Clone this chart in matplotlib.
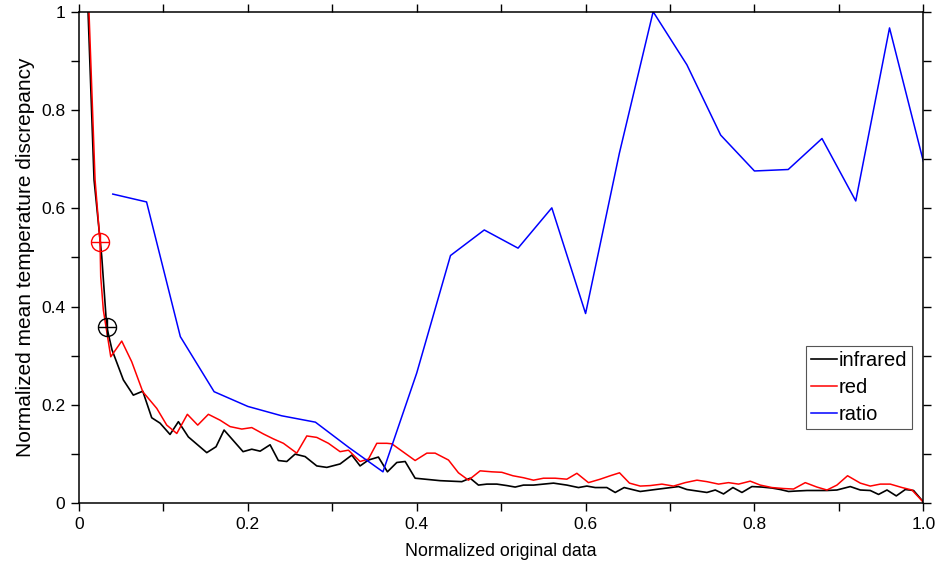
import numpy as np
import matplotlib
matplotlib.use('Agg')
import matplotlib.pyplot as plt
from matplotlib.ticker import MultipleLocator

plt.rcParams['font.family'] = ['Liberation Sans', 'DejaVu Sans']
plt.rcParams['font.size'] = 12

# infrared channel
x_ir = [0.0107, 0.0178, 0.0269, 0.0328, 0.0391, 0.0525, 0.0643, 0.0755, 0.0861, 0.0960,
        0.1078, 0.1177, 0.1295, 0.1513, 0.1623, 0.1718, 0.1943, 0.2046, 0.2145, 0.2263,
        0.2361, 0.2461, 0.2559, 0.2678, 0.2816, 0.2935, 0.3092, 0.3231, 0.3329, 0.3428,
        0.3546, 0.3653, 0.3764, 0.3863, 0.3981, 0.4277, 0.4534, 0.4633, 0.4731, 0.4831,
        0.4949, 0.5068, 0.5166, 0.5264, 0.5383, 0.5501, 0.5620, 0.5778, 0.5916, 0.6015,
        0.6114, 0.6252, 0.6351, 0.6457, 0.6647, 0.6825, 0.6963, 0.7101, 0.7200, 0.7319,
        0.7437, 0.7536, 0.7634, 0.7745, 0.7852, 0.7970, 0.8089, 0.8207, 0.8306, 0.8404,
        0.8504, 0.8622, 0.8740, 0.8859, 0.8977, 0.9135, 0.9254, 0.9372, 0.9470, 0.9570,
        0.9680, 0.9787, 0.9885, 1.0]
y_ir = [1.0, 0.658, 0.502, 0.359, 0.312, 0.251, 0.220, 0.228, 0.174, 0.163,
        0.140, 0.166, 0.135, 0.103, 0.115, 0.149, 0.105, 0.110, 0.106, 0.119,
        0.087, 0.085, 0.100, 0.095, 0.076, 0.073, 0.080, 0.098, 0.076, 0.088,
        0.094, 0.064, 0.083, 0.085, 0.051, 0.046, 0.044, 0.051, 0.037, 0.039,
        0.039, 0.036, 0.033, 0.037, 0.037, 0.039, 0.041, 0.037, 0.032, 0.035,
        0.032, 0.032, 0.022, 0.032, 0.024, 0.028, 0.031, 0.034, 0.028, 0.025,
        0.022, 0.027, 0.019, 0.032, 0.022, 0.034, 0.033, 0.031, 0.028, 0.024,
        0.025, 0.026, 0.026, 0.026, 0.027, 0.034, 0.027, 0.026, 0.018, 0.027,
        0.015, 0.028, 0.026, 0.003]

# red channel
x_red = [0.0118, 0.0190, 0.0249, 0.0257, 0.0288, 0.0376, 0.0506, 0.0624, 0.0755, 0.0921,
         0.1039, 0.1158, 0.1283, 0.1406, 0.1532, 0.1671, 0.1789, 0.1928, 0.2046, 0.2184,
         0.2302, 0.2421, 0.2579, 0.2698, 0.2816, 0.2954, 0.3092, 0.3191, 0.3329, 0.3428,
         0.3527, 0.3646, 0.3705, 0.3981, 0.4120, 0.4218, 0.4376, 0.4494, 0.4613, 0.4751,
         0.4890, 0.5008, 0.5139, 0.5264, 0.5383, 0.5501, 0.5640, 0.5778, 0.5897, 0.6034,
         0.6173, 0.6292, 0.6402, 0.6520, 0.6647, 0.6765, 0.6904, 0.7041, 0.7180, 0.7319,
         0.7437, 0.7575, 0.7693, 0.7812, 0.7950, 0.8069, 0.8207, 0.8345, 0.8463, 0.8602,
         0.8740, 0.8859, 0.8977, 0.9103, 0.9254, 0.9372, 0.9491, 0.9609, 0.9748, 0.9866,
         0.9985]
y_red = [1.0, 0.658, 0.532, 0.461, 0.393, 0.298, 0.330, 0.288, 0.227, 0.193,
         0.159, 0.142, 0.181, 0.159, 0.181, 0.169, 0.156, 0.151, 0.154, 0.141,
         0.131, 0.122, 0.102, 0.137, 0.134, 0.122, 0.105, 0.108, 0.085, 0.090,
         0.122, 0.122, 0.121, 0.087, 0.102, 0.102, 0.088, 0.062, 0.047, 0.066,
         0.064, 0.063, 0.056, 0.052, 0.047, 0.051, 0.051, 0.049, 0.061, 0.042,
         0.049, 0.056, 0.062, 0.041, 0.035, 0.036, 0.039, 0.035, 0.042, 0.047,
         0.044, 0.039, 0.042, 0.039, 0.045, 0.037, 0.032, 0.030, 0.029, 0.042,
         0.033, 0.027, 0.037, 0.056, 0.041, 0.035, 0.039, 0.039, 0.032, 0.027,
         0.005]

# ratio
x_ratio = [0.04, 0.08, 0.12, 0.16, 0.20, 0.24, 0.28, 0.32, 0.36, 0.40, 0.44, 0.48, 0.52,
           0.56, 0.60, 0.64, 0.68, 0.72, 0.76, 0.80, 0.84, 0.88, 0.92, 0.96, 1.00]
y_ratio = [0.629, 0.613, 0.339, 0.227, 0.197, 0.178, 0.165, 0.113, 0.064, 0.265, 0.504,
           0.556, 0.519, 0.601, 0.386, 0.712, 1.0, 0.892, 0.749, 0.676, 0.679, 0.742,
           0.615, 0.967, 0.696]

# selected points
sel_ir = (0.0328, 0.359)
sel_red = (0.0249, 0.532)

fig = plt.figure(figsize=(9.43, 5.71), dpi=100)
ax = fig.add_axes([0.0838, 0.1186, 0.8953, 0.8609])

ax.plot(x_ir, y_ir, color='black', lw=1.2, label='infrared')
ax.plot(x_red, y_red, color='red', lw=1.1, label='red')
ax.plot(x_ratio, y_ratio, color='blue', lw=1.1, label='ratio')

for (px, py), c in [(sel_red, 'red'), (sel_ir, 'black')]:
    ax.plot(px, py, marker='o', ms=13, mfc='none', mec=c, mew=1.0)
    ax.plot(px, py, marker='+', ms=13, mec=c, mew=1.0)

ax.set_xlim(0, 1)
ax.set_ylim(0, 1)
ax.xaxis.set_minor_locator(MultipleLocator(0.1))
ax.yaxis.set_minor_locator(MultipleLocator(0.1))
ax.set_xticks([0, 0.2, 0.4, 0.6, 0.8, 1.0])
ax.set_xticklabels(['0', '0.2', '0.4', '0.6', '0.8', '1.0'])
ax.set_yticks([0, 0.2, 0.4, 0.6, 0.8, 1.0])
ax.set_yticklabels(['0', '0.2', '0.4', '0.6', '0.8', '1'])
ax.tick_params(which='both', direction='out', length=6, width=1.0,
               top=True, right=True, labelsize=12.5, pad=4)
for s in ax.spines.values():
    s.set_linewidth(1.1)

ax.set_xlabel('Normalized original data', fontsize=12.8, labelpad=8)
ax.set_ylabel('Normalized mean temperature discrepancy', fontsize=15, labelpad=4)

leg = ax.legend(loc='lower right', bbox_to_anchor=(0.987, 0.151), fancybox=False,
                framealpha=1, edgecolor='#555555', handlelength=1.3, handletextpad=0.08,
                borderpad=0.25, labelspacing=0.4, fontsize=14.5, borderaxespad=0)
leg.get_frame().set_linewidth(0.8)

fig.savefig('out.png', dpi=100)
